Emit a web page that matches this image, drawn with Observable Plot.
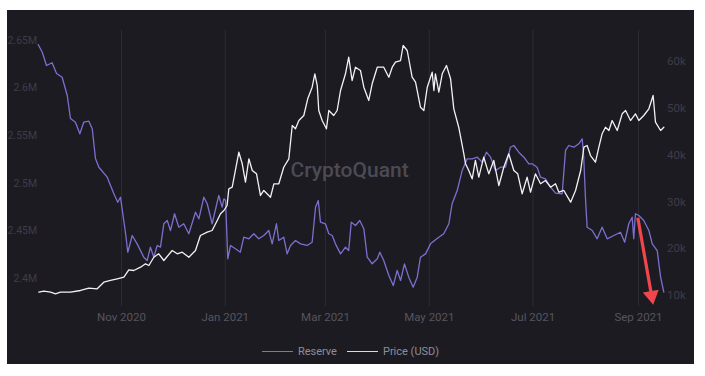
<!DOCTYPE html>
<html>
<head>
<meta charset="utf-8">
<script src="https://cdn.jsdelivr.net/npm/d3@7"></script>
<script src="https://cdn.jsdelivr.net/npm/@observablehq/plot@0.6"></script>
<style>
  html, body { margin: 0; padding: 0; background: #ffffff; }
  #panel { position: absolute; left: 7px; top: 10px; width: 687px; height: 354px; background: #1c1b22; overflow: hidden; font-family: Roboto, "Noto Sans", sans-serif; }
  #chart { position: absolute; left: 0; top: 0; }
  #legend { position: absolute; left: 0; top: 334px; width: 687px; height: 14px; display: flex; justify-content: center; align-items: center; gap: 10px; font-size: 11px; color: #8e8e97; }
  .item { display: flex; align-items: center; gap: 5px; }
  .swatch { width: 31px; height: 0; border-top: 1.6px solid; }
</style>
</head>
<body>
<div id="panel">
  <div id="chart"></div>
  <div id="legend"></div>
</div>
<script>
// Day offsets are days since 2020-09-13 (UTC)
const START = Date.UTC(2020, 8, 13);

const reserveDays = [0, 2.4, 4.9, 8.2, 10.8, 14.1, 17.1, 19.0, 21.9, 24.5, 26.8, 29.8, 31.8, 33.7, 35.7, 40.6, 44.5, 46.8, 48.4, 51.4, 52.7, 55.3, 58.2, 62.1, 64.1, 66.0, 68.0, 70.0, 71.9, 73.9, 75.9, 77.8, 80.2, 82.7, 85.6, 88.6, 92.5, 94.5, 97.4, 99.4, 102.3, 106.2, 108.2, 109.2, 110.2, 111.5, 113.1, 116.0, 118.9, 120.9, 123.9, 126.8, 129.7, 132.7, 135.6, 137.6, 140.1, 141.5, 144.4, 146.4, 148.4, 151.3, 154.3, 158.2, 161.1, 163.1, 164.7, 166.0, 168.9, 170.9, 172.9, 174.8, 177.8, 180.7, 182.6, 184.1, 186.6, 189.1, 191.5, 193.5, 196.4, 199.4, 200.9, 203.2, 206.2, 208.8, 211.1, 213.1, 215.4, 217.9, 220.5, 222.9, 224.8, 227.8, 230.7, 234.6, 238.5, 241.5, 243.4, 246.4, 249.3, 252.3, 255.2, 258.2, 261.1, 263.6, 266.0, 268.9, 271.9, 274.8, 277.7, 279.7, 282.6, 285.6, 288.5, 290.5, 293.4, 295.4, 298.3, 301.3, 304.2, 308.1, 310.1, 312.0, 315.0, 317.9, 319.9, 320.8, 321.8, 322.8, 325.8, 328.7, 331.6, 334.6, 338.5, 342.4, 344.9, 347.3, 349.3, 350.2, 351.2, 353.2, 356.1, 359.1, 361.1, 364.0, 366.0, 367.9];
// Reserve, millions of BTC
const reserveValues = [2.6458, 2.6377, 2.6237, 2.6266, 2.6153, 2.6114, 2.5922, 2.5681, 2.5642, 2.5520, 2.5642, 2.5652, 2.5573, 2.5261, 2.5169, 2.5064, 2.4890, 2.4801, 2.4854, 2.4473, 2.4276, 2.4452, 2.4364, 2.4224, 2.4189, 2.4329, 2.4224, 2.4347, 2.4329, 2.4575, 2.4609, 2.4504, 2.4680, 2.4539, 2.4575, 2.4470, 2.4696, 2.4627, 2.4854, 2.4785, 2.4575, 2.4872, 2.4749, 2.4837, 2.4819, 2.4207, 2.4347, 2.4312, 2.4276, 2.4434, 2.4417, 2.4470, 2.4417, 2.4452, 2.4504, 2.4364, 2.4575, 2.4399, 2.4434, 2.4259, 2.4347, 2.4399, 2.4364, 2.4347, 2.4381, 2.4749, 2.4819, 2.4591, 2.4575, 2.4470, 2.4452, 2.4364, 2.4259, 2.4329, 2.4294, 2.4591, 2.4557, 2.4609, 2.4522, 2.4224, 2.4155, 2.4207, 2.4276, 2.4189, 2.4032, 2.3926, 2.4084, 2.3979, 2.4154, 2.4014, 2.3909, 2.4014, 2.4224, 2.4259, 2.4364, 2.4420, 2.4470, 2.4575, 2.4785, 2.4924, 2.5134, 2.5257, 2.5257, 2.5274, 2.5222, 2.5327, 2.5274, 2.5134, 2.5169, 2.5169, 2.5379, 2.5397, 2.5327, 2.5274, 2.5205, 2.5205, 2.5169, 2.5064, 2.5047, 2.4959, 2.4896, 2.4890, 2.5345, 2.5397, 2.5379, 2.5415, 2.5467, 2.5274, 2.4854, 2.4539, 2.4504, 2.4417, 2.4539, 2.4417, 2.4452, 2.4486, 2.4381, 2.4575, 2.4644, 2.4417, 2.4680, 2.4662, 2.4609, 2.4504, 2.4364, 2.4294, 2.4014, 2.3856];

const priceDays = [0.4, 3.3, 7.3, 10.2, 13.1, 19.0, 24.9, 29.8, 34.7, 38.6, 42.5, 46.5, 50.4, 53.3, 56.2, 60.2, 63.1, 65.1, 68.0, 70.9, 73.9, 78.8, 81.8, 84.7, 88.6, 92.5, 95.4, 99.4, 102.3, 105.3, 107.2, 109.2, 111.1, 112.1, 114.1, 118.0, 120.0, 121.9, 123.9, 125.9, 128.4, 130.7, 132.7, 136.6, 138.6, 141.5, 144.4, 147.4, 149.4, 151.3, 153.3, 156.2, 158.5, 161.1, 162.7, 164.1, 165.0, 167.0, 169.5, 170.9, 173.8, 175.8, 177.8, 180.7, 182.6, 184.6, 186.6, 189.5, 191.5, 194.4, 196.4, 199.4, 203.2, 206.2, 208.2, 210.1, 213.1, 214.6, 217.0, 219.9, 221.9, 224.8, 226.8, 228.8, 231.7, 232.7, 233.6, 235.6, 237.6, 240.1, 242.5, 244.4, 247.3, 250.3, 251.3, 253.2, 255.2, 257.1, 259.1, 262.0, 265.0, 267.9, 270.9, 273.8, 276.7, 279.7, 282.0, 284.6, 287.5, 289.5, 292.4, 295.4, 298.3, 301.3, 304.2, 306.2, 309.1, 313.1, 316.0, 319.0, 320.9, 322.8, 324.8, 327.7, 329.7, 331.6, 333.6, 335.6, 337.5, 340.5, 343.4, 345.4, 348.3, 351.2, 353.2, 356.1, 359.1, 361.6, 363.0, 366.0, 367.9];
// Price, thousands of USD
const priceValues = [10.71, 10.92, 10.71, 10.36, 10.71, 10.71, 11.07, 11.56, 11.43, 12.84, 13.21, 13.57, 13.91, 15.49, 15.34, 16.05, 16.77, 16.41, 18.18, 18.91, 17.48, 19.62, 18.91, 19.25, 18.18, 19.62, 22.82, 23.53, 23.89, 26.03, 27.46, 28.16, 29.23, 32.80, 33.14, 40.62, 38.14, 34.21, 39.21, 36.71, 36.00, 31.37, 32.44, 31.00, 33.87, 33.87, 37.41, 39.21, 46.32, 45.62, 47.39, 48.46, 52.03, 54.51, 57.37, 54.87, 49.53, 47.39, 45.62, 49.53, 48.46, 49.53, 53.80, 57.37, 60.92, 55.94, 58.78, 58.08, 54.51, 51.67, 55.24, 58.78, 58.78, 56.65, 58.78, 59.85, 60.21, 63.42, 62.35, 56.65, 55.58, 50.24, 49.53, 54.51, 57.71, 53.80, 57.37, 53.44, 57.37, 59.15, 56.30, 49.89, 45.96, 40.28, 38.14, 36.71, 34.94, 38.85, 35.28, 39.55, 36.00, 38.85, 33.50, 37.41, 40.28, 36.71, 36.00, 31.73, 35.28, 32.07, 36.00, 33.87, 34.57, 33.14, 33.87, 32.07, 32.44, 29.94, 32.44, 36.71, 41.69, 42.05, 39.91, 38.48, 41.69, 44.55, 45.96, 45.26, 47.39, 45.26, 48.82, 49.53, 47.39, 48.82, 47.39, 48.46, 49.89, 52.74, 47.03, 45.26, 45.96];

const reserveTicks = [2.4, 2.45, 2.5, 2.55, 2.6, 2.65];
const priceTicks = [10, 20, 30, 40, 50, 60];
const monthTicks = ["2020-11-01", "2021-01-01", "2021-03-01", "2021-05-01", "2021-07-01", "2021-09-01"];

// annotation arrow (day offset, reserve M)
const arrowStart = {day: 352.6, value: 2.4638};
const arrowHead = {day: 360.7, value: 2.3820};
const watermark = [{day: 183.1, value: 2.5134, text: "CryptoQuant"}];

const toDate = d => new Date(START + d * 864e5);
// price (k) mapped onto reserve (M) axis units
const priceToRes = d3.scaleLinear().domain([10, 60]).range([2.38214, 2.62794]);

const reserve = reserveDays.map((d, i) => ({date: toDate(d), value: reserveValues[i]}));
const price = priceDays.map((d, i) => ({date: toDate(d), value: priceToRes(priceValues[i])}));

const W = 687, H = 325;
const chart = Plot.plot({
  width: W,
  height: H,
  marginLeft: 30.67,
  marginRight: 30.5,
  marginTop: 20,
  marginBottom: 29,
  style: {background: "transparent", fontFamily: "Roboto, 'Noto Sans', sans-serif", overflow: "visible"},
  x: {type: "utc", domain: [toDate(0), toDate(368)]},
  y: {domain: [2.37059, 2.66050], axis: null},
  marks: [
    Plot.gridX(monthTicks.map(d => new Date(d)), {stroke: "#2d2c35", strokeOpacity: 1, strokeWidth: 1}),
    Plot.axisX(monthTicks.map(d => new Date(d)), {tickSize: 0, tickPadding: 6, tickFormat: d3.utcFormat("%b %Y"), fill: "#56555f", fontSize: 11.5, label: null}),
    Plot.text(reserveTicks, {frameAnchor: "left", y: d => d, text: d => d + "M", textAnchor: "end", dx: -1, fill: "#3e3d48", fontSize: 10.5}),
    Plot.text(priceTicks, {frameAnchor: "right", y: d => priceToRes(d), text: d => d + "k", textAnchor: "start", dx: 3, fill: "#3e3d48", fontSize: 11.5}),
    Plot.text(watermark, {x: d => toDate(d.day), y: "value", text: "text", fontSize: 21, fontWeight: 500, fill: "#4b4a55"}),
    Plot.line(reserve, {x: "date", y: "value", stroke: "#7b70cf", strokeWidth: 1.3, curve: "linear"}),
    Plot.line(price, {x: "date", y: "value", stroke: "#f2f2f4", strokeWidth: 1.3, curve: "linear"}),
    Plot.link([{a: arrowStart, b: arrowHead}], {x1: d => toDate(d.a.day), y1: d => d.a.value, x2: d => toDate(d.b.day), y2: d => d.b.value, stroke: "#f0474d", strokeWidth: 3.2}),
    Plot.dot([arrowHead], {x: d => toDate(d.day), y: "value", symbol: "triangle", r: 6, fill: "#f0474d", rotate: 170})
  ]
});
document.getElementById("chart").appendChild(chart);

const legendItems = [{label: "Reserve", color: "#7b70cf"}, {label: "Price (USD)", color: "#dcdce0"}];
const legend = document.getElementById("legend");
legendItems.forEach(it => {
  const el = document.createElement("div");
  el.className = "item";
  el.innerHTML = `<span class="swatch" style="border-color:${it.color}"></span><span>${it.label}</span>`;
  legend.appendChild(el);
});
</script>
</body>
</html>
